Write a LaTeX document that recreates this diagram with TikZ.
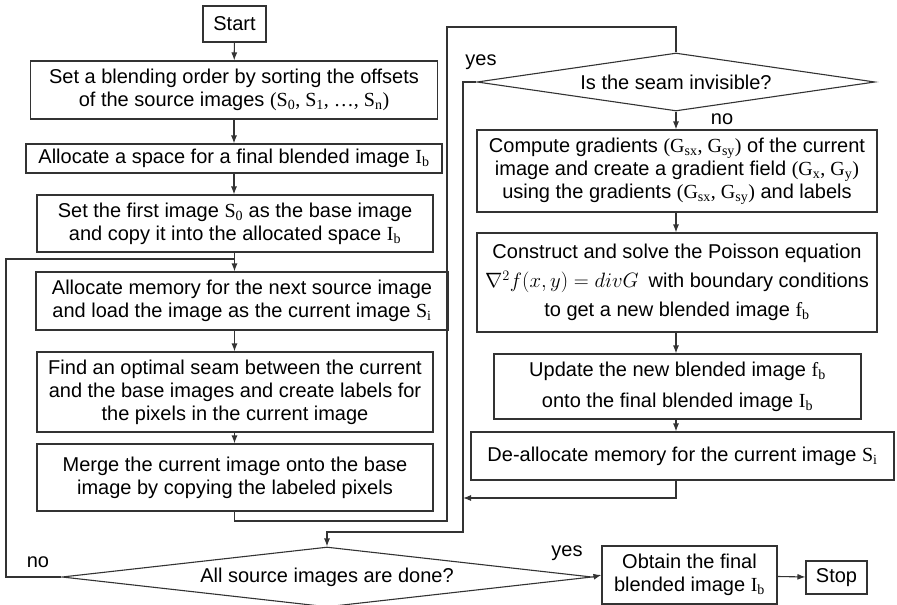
\documentclass[tikz,border=0pt]{standalone}
\usepackage{fontspec}
\setmainfont{Liberation Sans}
\newfontfamily\tms{Liberation Serif}
\usetikzlibrary{shapes.geometric,arrows.meta}
\newcommand{\sym}[2]{{\tms #1\textsubscript{#2}}}
\tikzset{
  procbox/.style={draw=black!80, line width=1.1pt, inner sep=0pt, align=center},
  choice/.style={draw=black!80, line width=1.1pt, diamond, inner sep=0pt, aspect=7},
  flow/.style={draw=black!80, line width=1.1pt, -{Latex[length=8pt,width=6pt]}},
  wire/.style={draw=black!80, line width=1.1pt},
}
\begin{document}
\begin{tikzpicture}[x=1pt, y=-1pt, font=\fontsize{20}{23}\selectfont]
  \useasboundingbox (0,0) rectangle (897,605);
  % left column
  \node[procbox, minimum width=63, minimum height=36] (start) at (234.5,24) {Start};
  \node[procbox, minimum width=407, minimum height=58] (order) at (234,90)
    {Set a blending order by sorting the offsets\\
     of the source images {\tms (S\textsubscript{0}, S\textsubscript{1}, \dots, S\textsubscript{n})}};
  \node[procbox, minimum width=416, minimum height=29] (space) at (234,158.5)
    {Allocate a space for a final blended image \sym{I}{b}};
  \node[procbox, minimum width=396, minimum height=57] (first) at (235,223.5)
    {Set the first image \sym{S}{0} as the base image\\
     and copy it into the allocated space \sym{I}{b}};
  \node[procbox, minimum width=412, minimum height=58] (mem) at (242,301)
    {Allocate memory for the next source image\\
     and load the image as the current image \sym{S}{i}};
  \node[procbox, minimum width=396, minimum height=80] (seam) at (235,392)
    {Find an optimal seam between the current\\
     and the base images and create labels for\\
     the pixels in the current image};
  \node[procbox, minimum width=396, minimum height=67] (merge) at (235,477.5)
    {Merge the current image onto the base\\
     image by copying the labeled pixels};
  % right column
  \node[choice, minimum width=398, minimum height=58] (inv) at (676,82)
    {Is the seam invisible?};
  \node[procbox, minimum width=400, minimum height=82] (grad) at (677,171)
    {Compute gradients {\tms(G\textsubscript{sx}, G\textsubscript{sy})} of the current\\
     image and create a gradient field {\tms(G\textsubscript{x}, G\textsubscript{y})}\\
     using the gradients {\tms(G\textsubscript{sx}, G\textsubscript{sy})} and labels};
  \node[procbox, minimum width=400, minimum height=99] (poisson) at (677,282.5)
    {Construct and solve the Poisson equation\\[6pt]
     $\nabla^2 f(x,y) = divG$\enspace with boundary conditions\\[6pt]
     to get a new blended image \sym{f}{b}};
  \node[procbox, minimum width=367, minimum height=65] (update) at (677.5,386.5)
    {Update the new blended image \sym{f}{b}\\[8pt]
     onto the final blended image \sym{I}{b}};
  \node[procbox, minimum width=423, minimum height=48] (dealloc) at (682.5,456)
    {De-allocate memory for the current image \sym{S}{i}};
  % bottom row
  \node[choice, minimum width=530, minimum height=60] (done) at (327,577)
    {All source images are done?};
  \node[procbox, minimum width=175, minimum height=58] (obtain) at (689.5,575)
    {Obtain the final\\ blended image \sym{I}{b}};
  \node[procbox, minimum width=61, minimum height=33] (stop) at (836.5,577.5) {Stop};
  % branch labels
  \node (yesinv) at (481,62) {yes};
  \node (noinv) at (722,119) {no};
  \node (nodone) at (38,562) {no};
  \node (yesdone) at (567,553) {yes};
  % joints of the loops
  \coordinate (loopL) at (6,259);
  \coordinate (loopJ) at (234,259);
  \coordinate (upA) at (447,521);
  \coordinate (upB) at (447,27);
  \coordinate (yesA) at (463,532);
  \coordinate (yesJ) at (463,498);
  % main chain
  \draw[flow] (start) -- (order);
  \draw[flow] (order) -- (space);
  \draw[flow] (space) -- (space |- first.north);
  \draw[flow] (first.south -| start) -- (start |- mem.north);
  \draw[flow] (mem.south -| start) -- (start |- seam.north);
  \draw[flow] (seam.south -| start) -- (start |- merge.north);
  \draw[wire] (merge.south -| start) |- (upA) -- (upB) -| (inv.north);
  \draw[flow] (inv.south) -- (inv.south |- grad.north);
  \draw[flow] (grad.south -| inv) -- (inv |- poisson.north);
  \draw[flow] (poisson.south -| inv) -- (inv |- update.north);
  \draw[flow] (update.south -| inv) -- (inv |- dealloc.north);
  \draw[flow] (inv |- dealloc.south) |- (yesJ);
  \draw[flow] (inv.west) -| (yesA) -| (done.north);
  \draw[wire] (done.west) -| (loopL) -- (loopJ);
  \draw[flow] (done.east) -- (obtain.west);
  \draw[flow] (obtain) -- (stop);
\end{tikzpicture}
\end{document}
